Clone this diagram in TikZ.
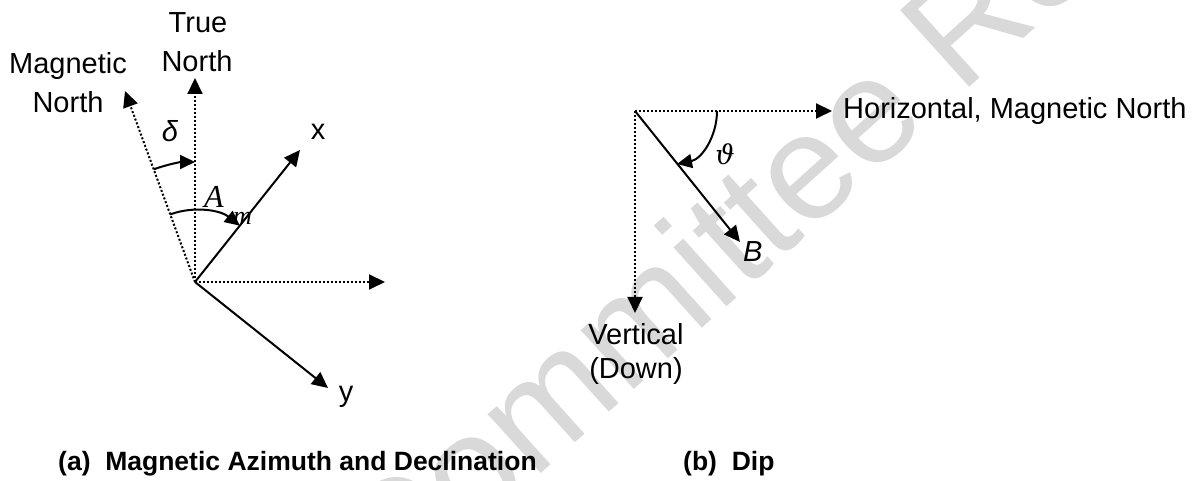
\documentclass[tikz,border=0pt]{standalone}
\usepackage{fontspec}
\setmainfont{Liberation Sans}
\newfontfamily\serifA{Liberation Serif}
\newfontfamily\dvserif{DejaVu Serif}
\usetikzlibrary{arrows.meta}
\begin{document}
\begin{tikzpicture}[x=1bp,y=1bp,
  lbl/.style={font=\fontsize{29bp}{34bp}\selectfont, inner sep=0pt},
  captxt/.style={font=\fontsize{26.5bp}{30bp}\selectfont\bfseries, inner sep=0pt, anchor=base west},
  vec/.style={line width=2bp, -{Triangle[length=16bp,width=15bp]}},
  dotvec/.style={line width=2bp, dash pattern=on 2bp off 2bp, -{Triangle[length=16bp,width=15bp]}},
  ang/.style={line width=2bp, -{Triangle[length=15bp,width=14bp]}},
  wmark/.style={anchor=base west, inner sep=0pt, text=black!15, font=\fontsize{150bp}{150bp}\selectfont}
]
\useasboundingbox (0,0) rectangle (1200,481);
\fill[white] (0,0) rectangle (1200,481);
% watermark
\begin{scope}
\clip (0,0) rectangle (1200,481);
\node[wmark, rotate=42] (wm) at (391,-128) {Committee Re};
\end{scope}
% ---- (a) ----
\coordinate (O) at (195,199);
\coordinate (TN) at (195,403);
\coordinate (MN) at (125,390);
\coordinate (E) at (385,199);
\coordinate (X) at (300,331);
\coordinate (Y) at (328,93);
\draw[dotvec] (O) -- (TN);
\draw[dotvec] (O) -- (MN);
\draw[dotvec] (O) -- (E);
\draw[vec] (O) -- (X);
\draw[vec] (O) -- (Y);
\draw[ang] (O) ++(110.1:120) arc[start angle=110.1, end angle=90, radius=120];
\draw[ang] (O) ++(110.1:72) arc[start angle=110.1, end angle=51.5, radius=72];
\node[lbl, anchor=base] (tn1) at (198,448) {True};
\node[lbl, anchor=base] (tn2) at (197,409) {North};
\node[lbl, anchor=base] (mn1) at (68,407) {Magnetic};
\node[lbl, anchor=base] (mn2) at (68,368) {North};
\node[lbl, anchor=base] (xl) at (318,341) {x};
\node[lbl, anchor=base] (yl) at (346,79) {y};
\node[lbl, anchor=base] (dl) at (170,339) {\itshape δ};
\node[anchor=base west, inner sep=0pt, font=\serifA\itshape\fontsize{32bp}{32bp}\selectfont] (am) at (204,273) {A};
\node[anchor=base west, inner sep=0pt, font=\serifA\itshape\fontsize{26bp}{26bp}\selectfont] (ams) at (233,256) {m};
% ---- (b) ----
\coordinate (P) at (635,370);
\coordinate (PH) at (832,370);
\coordinate (PV) at (635,168);
\coordinate (PB) at (740,239);
\coordinate (th1) at (717,370);
\coordinate (th2) at (677,317);
\draw[dotvec] (P) -- (PH);
\draw[dotvec] (P) -- (PV);
\draw[vec] (P) -- (PB);
\draw[ang] (th1) .. controls (717,345) and (702,322) .. (th2);
\node[lbl, anchor=base west] (hl) at (843,362) {Horizontal, Magnetic North};
\node[anchor=base, inner sep=0pt, font=\dvserif\itshape\fontsize{27bp}{27bp}\selectfont] (th) at (725,316) {ϑ};
\node[lbl, anchor=base west] (bl) at (743,219) {\itshape B};
\node[lbl, anchor=base] (v1) at (636,136) {Vertical};
\node[lbl, anchor=base] (v2) at (636,102) {(Down)};
% captions
\node[captxt] (ca) at (58,10) {(a)\ \ Magnetic Azimuth and Declination};
\node[captxt] (cb) at (683,10) {(b)\ \ Dip};
\end{tikzpicture}
\end{document}
